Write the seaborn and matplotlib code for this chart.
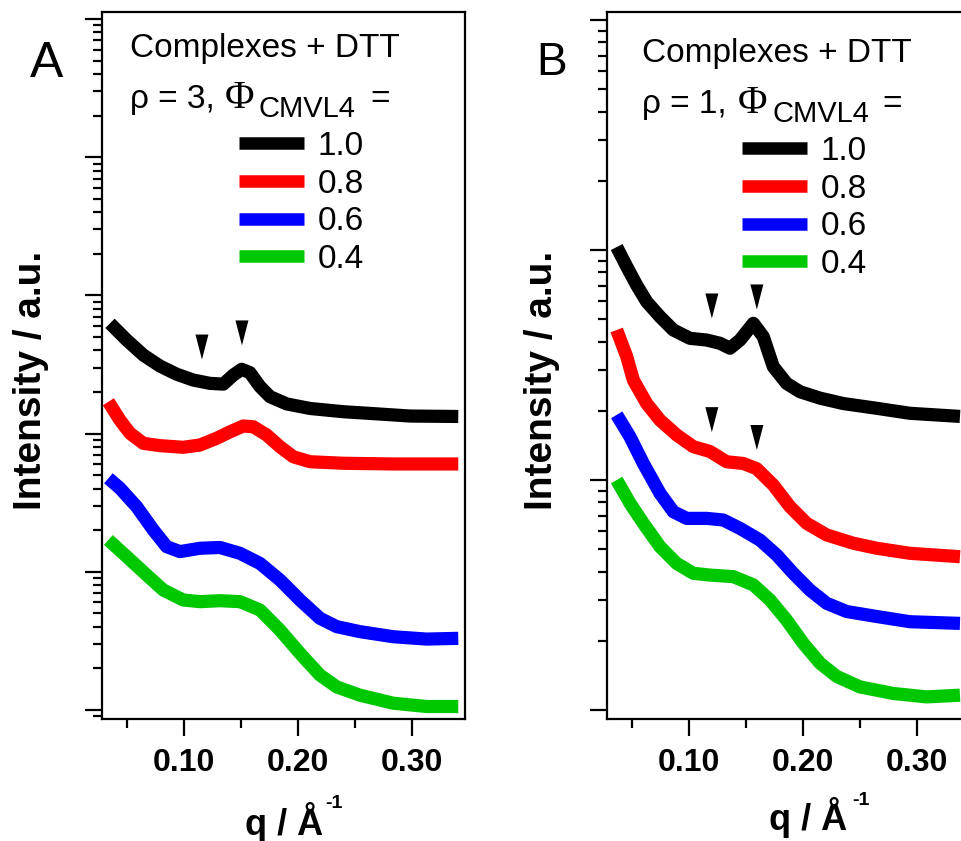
import numpy as np
import pandas as pd
import matplotlib
matplotlib.use("Agg")
import matplotlib.pyplot as plt
import seaborn as sns
from matplotlib.path import Path
from matplotlib.lines import Line2D
from matplotlib.ticker import LogLocator, NullFormatter

# ---------------- data ----------------
phi_labels = ["1.0", "0.8", "0.6", "0.4"]
colors = ["#000000", "#ff0000", "#0000ff", "#00c800"]

# Panel A (rho = 3)
qA_10 = [0.035, 0.0496, 0.0643, 0.0789, 0.0935, 0.1081, 0.1227, 0.1344, 0.1432, 0.1505,
         0.1578, 0.1666, 0.1754, 0.19, 0.2105, 0.2397, 0.269, 0.2982, 0.3406]
IA_10 = [628, 476, 370, 308, 269, 244, 231, 228, 265, 292,
         276, 219, 185, 164, 152, 144, 139, 134, 133]
qA_08 = [0.0336, 0.0438, 0.0526, 0.0643, 0.0789, 0.0993, 0.114, 0.1286, 0.1403, 0.152,
         0.1608, 0.1725, 0.1841, 0.1958, 0.2105, 0.2397, 0.2835, 0.3406]
IA_08 = [170, 125, 100.5, 85, 81.8, 79.6, 82.7, 92.5, 103, 113.5,
         112, 97.7, 80.4, 68, 62.6, 61, 60.3, 60.3]
qA_06 = [0.0336, 0.0438, 0.0584, 0.073, 0.0847, 0.0964, 0.114, 0.1315, 0.1491, 0.1666,
         0.1841, 0.2017, 0.2192, 0.2339, 0.2543, 0.2835, 0.3128, 0.3406]
IA_06 = [47.5, 40.2, 29.6, 20.1, 15.2, 14.0, 14.8, 15.0, 13.6, 11.5,
         8.73, 6.25, 4.61, 4.01, 3.69, 3.39, 3.26, 3.30]
qA_04 = [0.0336, 0.0496, 0.0672, 0.0818, 0.0993, 0.114, 0.1315, 0.1491, 0.1666, 0.1841,
         0.2017, 0.2192, 0.2339, 0.2543, 0.2835, 0.3128, 0.3406]
IA_04 = [17.0, 12.9, 9.48, 7.38, 6.25, 6.08, 6.18, 6.08, 5.29, 3.79,
         2.57, 1.79, 1.47, 1.28, 1.12, 1.06, 1.06]

# Panel B (rho = 1)
qB_10 = [0.0365, 0.0453, 0.054, 0.0628, 0.0745, 0.0862, 0.1008, 0.1155, 0.1271, 0.1359,
         0.1447, 0.1564, 0.1651, 0.1739, 0.1856, 0.1973, 0.2148, 0.2353, 0.2646, 0.2938, 0.3377]
IB_10 = [103, 84.7, 70.4, 59.6, 51.3, 44.9, 41.3, 40.6, 39.3, 37.4,
         40.6, 48.0, 42.0, 31.1, 26.3, 24.2, 22.7, 21.5, 20.5, 19.5, 18.9]
qB_08 = [0.0365, 0.0453, 0.0511, 0.0628, 0.0745, 0.0891, 0.1037, 0.1184, 0.133, 0.1476,
         0.1593, 0.1739, 0.1885, 0.2032, 0.2207, 0.2441, 0.2646, 0.2938, 0.3377]
IB_08 = [44.9, 34.4, 27.2, 21.5, 18.2, 15.7, 13.96, 13.3, 12.0, 11.8,
         11.2, 9.51, 7.66, 6.48, 5.77, 5.31, 5.05, 4.80, 4.64]
qB_06 = [0.0365, 0.0482, 0.0599, 0.0745, 0.0862, 0.0979, 0.1155, 0.13, 0.1447, 0.1622,
         0.1769, 0.1914, 0.2061, 0.2207, 0.2383, 0.2646, 0.2938, 0.3377]
IB_06 = [19.2, 15.4, 11.8, 8.75, 7.28, 6.81, 6.81, 6.70, 6.16, 5.48,
         4.72, 3.93, 3.32, 2.91, 2.68, 2.55, 2.42, 2.38]
qB_04 = [0.0365, 0.0482, 0.0599, 0.0745, 0.0891, 0.1037, 0.1184, 0.1388, 0.1564, 0.171,
         0.1856, 0.2002, 0.2148, 0.2295, 0.2499, 0.2792, 0.3084, 0.3377]
IB_04 = [10.0, 7.92, 6.48, 5.13, 4.34, 3.93, 3.86, 3.80, 3.50, 3.01,
         2.46, 1.95, 1.60, 1.40, 1.26, 1.18, 1.14, 1.16]

# arrowhead markers
markA_q = [0.1157, 0.1508]
markA_I = [423, 535]
markB_q = [0.1200, 0.1595, 0.1200, 0.1595]
markB_I = [57.1, 62.5, 18.3, 15.3]

xtick_major = [0.10, 0.20, 0.30]
xtick_labels = ["0.10", "0.20", "0.30"]
xtick_minor = [0.05, 0.15, 0.25]

# ---------------- style ----------------
sns.set_theme(style="ticks", rc={
    "axes.edgecolor": "black", "xtick.color": "black", "ytick.color": "black",
    "axes.linewidth": 1.5, "text.color": "black", "axes.labelcolor": "black",
})
plt.rcParams["font.family"] = ["Liberation Sans", "DejaVu Sans"]

W, H = 961, 841
fig = plt.figure(figsize=(W / 100, H / 100), dpi=100)


def fx(px):
    return px / W


def fy(py):
    return 1 - py / H


axA = fig.add_axes([fx(102), fy(719), 363 / W, 707 / H])
axB = fig.add_axes([fx(607), fy(719), 363 / W, 707 / H])

palette = dict(zip(phi_labels, colors))


def make_frame(qs, Is):
    parts = []
    for lab, q, I in zip(phi_labels, qs, Is):
        parts.append(pd.DataFrame({"q": q, "I": I, "phi": lab}))
    return pd.concat(parts, ignore_index=True)


dfA = make_frame([qA_10, qA_08, qA_06, qA_04], [IA_10, IA_08, IA_06, IA_04])
dfB = make_frame([qB_10, qB_08, qB_06, qB_04], [IB_10, IB_08, IB_06, IB_04])

tri = Path([(-0.52, 1), (0.52, 1), (0, -1), (-0.52, 1)],
           [Path.MOVETO, Path.LINETO, Path.LINETO, Path.CLOSEPOLY])

for ax, df, mq, mI, ylim, leg_anchor in [
    (axA, dfA, markA_q, markA_I, (10 ** (-9 / 138.2), 10 ** (5 + 7 / 138.2)), (239, 131)),
    (axB, dfB, markB_q, markB_I, (10 ** (-9 / 230), 10 ** (3 + 8 / 230)), (742, 136)),
]:
    sns.lineplot(data=df, x="q", y="I", hue="phi", hue_order=phi_labels, palette=palette,
                 estimator=None, sort=False, linewidth=9.5, solid_capstyle="butt",
                 solid_joinstyle="round", legend=False, ax=ax)
    sns.scatterplot(x=mq, y=mI, marker=tri, s=18 ** 2, color="black",
                    edgecolor="none", linewidth=0, legend=False, ax=ax, zorder=5)
    ax.set_yscale("log")
    ax.set_xlim(0.028, 0.3465)
    ax.set_ylim(*ylim)
    ax.yaxis.set_major_locator(LogLocator(base=10, numticks=30))
    ax.yaxis.set_minor_locator(LogLocator(base=10, subs=np.arange(2, 10), numticks=200))
    ax.yaxis.set_major_formatter(NullFormatter())
    ax.yaxis.set_minor_formatter(NullFormatter())
    ax.set_xticks(xtick_major, xtick_labels, fontsize=23, fontweight="bold")
    ax.set_xticks(xtick_minor, minor=True)
    ax.tick_params(which="major", length=12, width=1.6, direction="out")
    ax.tick_params(which="minor", length=6.5, width=1.6, direction="out")
    ax.tick_params(axis="x", which="major", pad=9)
    for sp in ax.spines.values():
        sp.set_linewidth(1.6)
    ax.set_ylabel("Intensity / a.u.", fontsize=28, fontweight="bold")
    ax.set_xlabel("q / Å", fontsize=26, fontweight="bold", va="baseline")
    handles = [Line2D([], [], color=c, lw=9, solid_capstyle="butt") for c in colors]
    ax.legend(handles, phi_labels, loc="upper left",
              bbox_to_anchor=(fx(leg_anchor[0]), fy(leg_anchor[1])),
              bbox_transform=fig.transFigure, frameon=False, fontsize=24,
              handlelength=1.95, handletextpad=0.4, labelspacing=0.2,
              borderpad=0, borderaxespad=0)

axA.yaxis.set_label_coords(-0.146, 0.4795)
axB.yaxis.set_label_coords(-0.13, 0.4795)
axA.xaxis.set_label_coords(0.501, -0.164)
axB.xaxis.set_label_coords(0.554, -0.157)

# superscripts of the x labels
fig.text(fx(325), fy(808), "-1", fontsize=14, fontweight="bold", ha="left", va="baseline")
fig.text(fx(852), fy(805), "-1", fontsize=14, fontweight="bold", ha="left", va="baseline")

# panel letters
fig.text(fx(30), fy(77), "A", fontsize=36, ha="left", va="baseline")
fig.text(fx(536), fy(75), "B", fontsize=33, ha="left", va="baseline")

# header texts
for x0, y1, y2, rho, phi_x, sub_x, eq_x in [
    (130, 57, 108, "ρ = 3, ", 225, 258, 370),
    (642, 62, 113, "ρ = 1, ", 738, 772, 882),
]:
    fig.text(fx(x0), fy(y1), "Complexes + DTT", fontsize=24, ha="left", va="baseline")
    fig.text(fx(x0), fy(y2), rho, fontsize=24, ha="left", va="baseline")
    fig.text(fx(phi_x), fy(y2), "Φ", fontsize=29, ha="left", va="baseline",
             family=["Liberation Serif", "DejaVu Serif"])
    fig.text(fx(sub_x), fy(y2 + 9), "CMVL4", fontsize=21, ha="left", va="baseline")
    fig.text(fx(eq_x), fy(y2), "=", fontsize=24, ha="left", va="baseline")

fig.savefig("out.png", dpi=100)
